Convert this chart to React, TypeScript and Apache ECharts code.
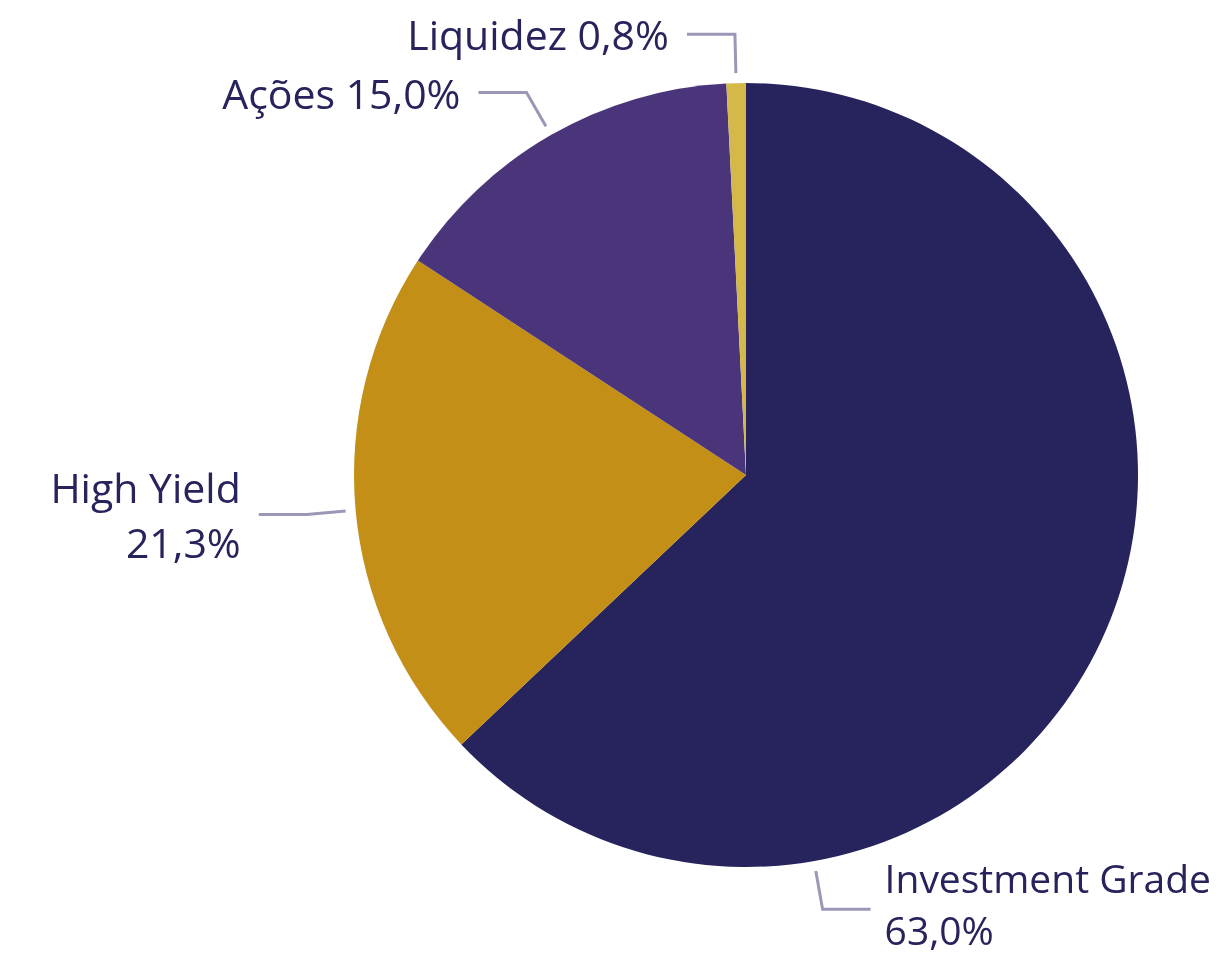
import React, { useEffect, useRef } from 'react';
import * as echarts from 'echarts';

const categories = ['Investment Grade', 'High Yield', 'Ações', 'Liquidez'];
const values = [63.0, 21.3, 15.0, 0.8];
const colors = ['#27235C', '#C48F17', '#4A357A', '#D4B84A'];
const twoLineLabel = [true, true, false, false];

const CX = 746;
const CY = 475;
const R = 392;

export default function App() {
  const ref = useRef<HTMLDivElement>(null);
  useEffect(() => {
    const chart = echarts.init(ref.current!, null, { renderer: 'svg' });
    const total = values.reduce((a, b) => a + b, 0);
    const mids: number[] = [];
    let acc = 0;
    values.forEach((v) => {
      mids.push(acc + v / 2);
      acc += v;
    });
    const anchorDeg = (i: number) => (i === 0 ? 170 : (mids[i] / total) * 360);
    const fmt = (v: number) => v.toFixed(1).replace('.', ',') + '%';
    chart.setOption({
      animation: false,
      series: [
        {
          type: 'pie',
          center: [CX, CY],
          radius: R,
          startAngle: 90,
          clockwise: true,
          data: categories.map((n, i) => ({
            name: n,
            value: values[i],
            itemStyle: { color: colors[i] },
            label: i === 0 ? { fontSize: 39, lineHeight: 52 } : undefined,
          })),
          itemStyle: { borderWidth: 0 },
          label: {
            show: true,
            position: 'outside',
            overflow: 'none',
            formatter: (p: any) =>
              p.name + (twoLineLabel[p.dataIndex] ? '\n' : ' ') + fmt(p.value),
            fontFamily: '"Open Sans", sans-serif',
            fontSize: 41,
            lineHeight: 55,
            color: '#27235C',
          },
          labelLine: { show: true, lineStyle: { color: '#9C97B7', width: 3 } },
          labelLayout: (params: any) => {
            const i = params.dataIndex;
            const a = (anchorDeg(i) * Math.PI) / 180;
            const sx = Math.sin(a);
            const sy = -Math.cos(a);
            const p0 = [CX + sx * (R + 10), CY + sy * (R + 10)];
            const p1 = [CX + sx * (R + 49), CY + sy * (R + 49)];
            const dir = sx >= 0 ? 1 : -1;
            const p2 = [p1[0] + dir * 48, p1[1]];
            return {
              x: p2[0] + dir * (i === 0 ? 14 : 18),
              y: p2[1] + (i === 0 ? -6 : 0),
              align: dir > 0 ? 'left' : 'right',
              verticalAlign: 'middle',
              width: 400,
              labelLinePoints: [p0, p1, p2],
            };
          },
        },
      ],
    });
    return () => chart.dispose();
  }, []);
  return (
    <div
      ref={ref}
      style={{ position: 'fixed', left: 0, top: 0, width: 1225, height: 957 }}
    />
  );
}
